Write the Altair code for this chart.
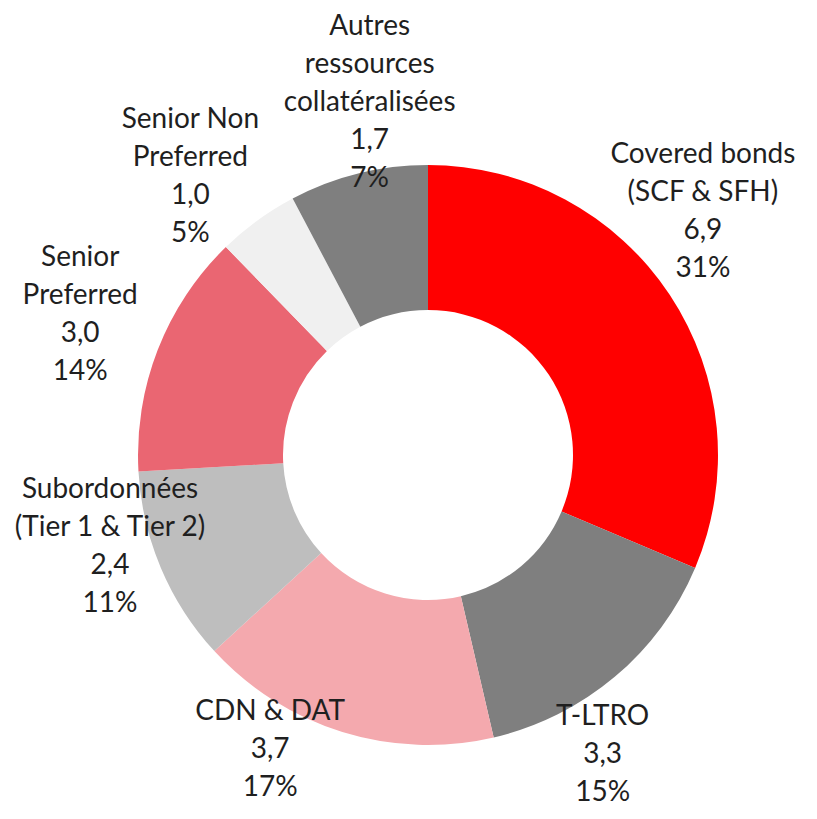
import altair as alt
import pandas as pd

categories = [
    "Covered bonds\n(SCF & SFH)",
    "T-LTRO",
    "CDN & DAT",
    "Subordonnées\n(Tier 1 & Tier 2)",
    "Senior\nPreferred",
    "Senior  Non\nPreferred",
    "Autres\nressources\ncollatéralisées",
]
values = [6.9, 3.3, 3.7, 2.4, 3.0, 1.0, 1.7]
value_labels = ["6,9", "3,3", "3,7", "2,4", "3,0", "1,0", "1,7"]
pct_labels = ["31%", "15%", "17%", "11%", "14%", "5%", "7%"]
colors = ["#FF0000", "#7F7F7F", "#F4A9AE", "#BEBEBE", "#EA6672", "#F0F0F0", "#7F7F7F"]

# label nudges (pixels) from the default outside position
label_nudges = [(-21, -104), (-54, -10), (-53, -82), (9, -103), (-17, -68), (-29, -48), (27, -83)]

df = pd.DataFrame({
    "cat": categories,
    "value": values,
    "order": list(range(len(values))),
    "label": [f"{c}\n{v}\n{p}" for c, v, p in zip(categories, value_labels, pct_labels)],
})

CX, CY = 420, 447

arcs = alt.Chart(df).mark_arc(outerRadius=290, innerRadius=145, stroke=None).encode(
    theta=alt.Theta("value:Q", stack=True),
    order=alt.Order("order:Q"),
    color=alt.Color("cat:N", scale=alt.Scale(domain=categories, range=colors), legend=None),
    x=alt.value(CX),
    y=alt.value(CY),
)

lbl_base = (
    alt.Chart(df)
    .transform_joinaggregate(total="sum(value)")
    .transform_window(cum="sum(value)", sort=[alt.SortField("order")], frame=[None, 0])
    .transform_calculate(mid="(datum.cum - datum.value / 2) / datum.total")
)

label_layers = []
for i, (dx, dy) in enumerate(label_nudges):
    label_layers.append(
        lbl_base.transform_filter(alt.datum.order == i)
        .mark_text(
            radius=355, dx=dx, dy=dy, font="Lato", fontSize=28, color="#1F1F1F",
            align="center", baseline="middle", lineBreak="\n", lineHeight=38,
        )
        .encode(
            theta=alt.Theta("mid:Q", scale=alt.Scale(domain=[0, 1]), stack=None),
            text="label:N",
            x=alt.value(CX),
            y=alt.value(CY),
        )
    )

chart = (
    alt.layer(arcs, *label_layers)
    .resolve_scale(theta="independent")
    .properties(width=800, height=803, autosize=alt.AutoSizeParams(type="none"), padding=0)
    .configure_view(stroke=None)
)

chart.save("out.html", embed_options={"renderer": "svg", "actions": False})
